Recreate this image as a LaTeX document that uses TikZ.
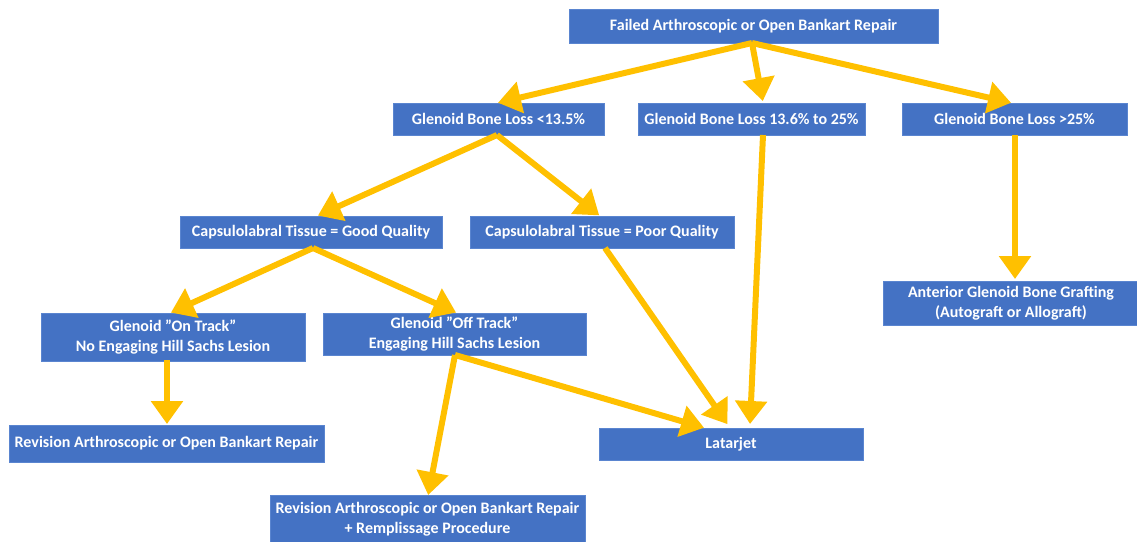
\documentclass[tikz,border=0pt]{standalone}
\usepackage{fontspec}
\setmainfont{Carlito}
\usetikzlibrary{arrows.meta}
\definecolor{boxblue}{HTML}{4472C4}
\definecolor{boxedge}{HTML}{5A85D0}
\definecolor{gold}{HTML}{FFC000}
\begin{document}
\begin{tikzpicture}[x=1pt,y=-1pt,
  box/.style={rectangle, fill=boxblue, draw=boxedge, line width=0.8pt, text=white,
    font=\bfseries\fontsize{16}{20}\selectfont, align=center, inner sep=0pt},
  flow/.style={draw=gold, line width=6pt, -{Triangle[length=23pt,width=31pt]}, shorten >=1pt}]
\useasboundingbox (0,0) rectangle (1137,541);
\node[box, minimum width=369pt, minimum height=34pt] (top) at (753.5,26) {Failed Arthroscopic or Open Bankart Repair};
\node[box, minimum width=211pt, minimum height=32pt] (b1) at (498.5,119) {Glenoid Bone Loss <13.5\%};
\node[box, minimum width=227pt, minimum height=32pt] (b2) at (751.5,119) {Glenoid Bone Loss 13.6\% to 25\%};
\node[box, minimum width=225pt, minimum height=32pt] (b3) at (1014.5,119) {Glenoid Bone Loss >25\%};
\node[box, minimum width=262pt, minimum height=32pt] (c1) at (311,232) {Capsulolabral Tissue = Good Quality};
\node[box, minimum width=264pt, minimum height=32pt] (c2) at (602,232) {Capsulolabral Tissue = Poor Quality};
\node[box, minimum width=264pt, minimum height=48pt] (d1) at (173,337) {Glenoid ''On Track''\\No Engaging Hill Sachs Lesion};
\node[box, minimum width=263pt, minimum height=42pt] (d2) at (454.5,334) {Glenoid ''Off Track''\\Engaging Hill Sachs Lesion};
\node[box, minimum width=315pt, minimum height=37pt] (e1) at (166.5,443.5) {Revision Arthroscopic or Open Bankart Repair};
\node[box, minimum width=264pt, minimum height=32pt] (lat) at (731,444) {Latarjet};
\node[box, minimum width=315pt, minimum height=48pt] (f) at (427.5,519) {Revision Arthroscopic or Open Bankart Repair\\+ Remplissage Procedure};
\node[box, minimum width=256pt, minimum height=44pt] (ant) at (1011,303) {Anterior Glenoid Bone Grafting\\(Autograft or Allograft)};
\coordinate (tS) at (752,43);
\coordinate (b1S) at (497,135);
\coordinate (c1S) at (313,248);
\coordinate (d2S) at (455,355);
\draw[flow] (tS) -- (497,103) coordinate (b1N);
\draw[flow] (tS) -- (763,102) coordinate (b2N);
\draw[flow] (tS) -- (1012,103) coordinate (b3N);
\draw[flow] (b1S) -- (317,216) coordinate (c1N);
\draw[flow] (b1S) -- (600,216) coordinate (c2N);
\draw[flow] (763,135) -- (750,425) coordinate (latN1);
\draw[flow] (1015,135) -- (1015,280) coordinate (antN);
\draw[flow] (c1S) -- (170,313) coordinate (d1N);
\draw[flow] (c1S) -- (457,313) coordinate (d2N);
\draw[flow] (605,248) -- (728,425) coordinate (latN2);
\draw[flow] (d2S) -- (705,428) coordinate (latN3);
\draw[flow] (d2S) -- (428,496) coordinate (fN);
\draw[flow] (167,360) -- (167,425) coordinate (e1N);
\end{tikzpicture}
\end{document}
